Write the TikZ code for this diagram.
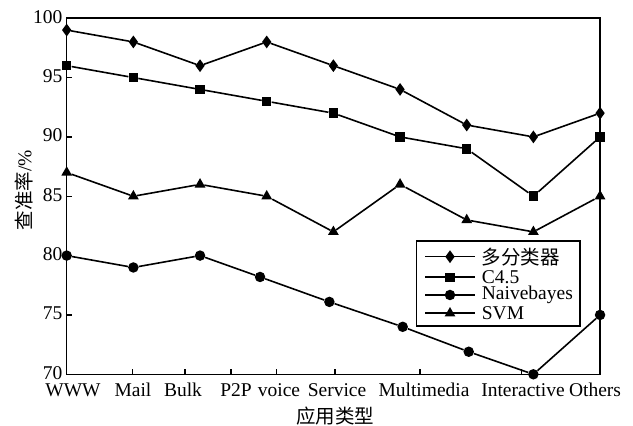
\documentclass[tikz,border=0pt]{standalone}
\usepackage{fontspec}
\setmainfont{Liberation Serif}
\newfontfamily\cjk{Noto Sans CJK SC}
\usetikzlibrary{shapes.geometric, positioning}

\begin{document}
\begin{tikzpicture}[
    x=66.67pt, y=11.87pt,
    font=\fontsize{19.5}{21}\selectfont,
    curve/.style={line width=1.6pt},
    frame/.style={line width=1.4pt},
    mdiamond/.style={diamond, fill=black, inner sep=0pt, minimum width=9.5pt, minimum height=13pt},
    msquare/.style={rectangle, fill=black, inner sep=0pt, minimum size=9.5pt},
    mcircle/.style={circle, fill=black, inner sep=0pt, minimum size=10.5pt},
    mtriangle/.style={regular polygon, regular polygon sides=3, fill=black, inner sep=0pt, minimum size=12.5pt},
    ticklabel/.style={inner sep=0pt}
]
    \useasboundingbox (-66.7pt,-51.7pt) rectangle (566.3pt,374.3pt);

    % axes box and ticks
    \draw[frame] (0,0) rectangle (8,30);
    \foreach \v in {5,10,15,20,25}
        \draw[frame] (0,\v) -- ++(5pt,0);
    \foreach \x in {0.99,1.775,2.465,3.15,4.025,5.3,6.825}
        \draw[frame] (\x,0) -- ++(0,5pt);

    \foreach \v in {70,75,...,100}
        \node[ticklabel, anchor=east, xshift=-4pt, yshift=1.5pt] (yl\v) at (0,\v-70) {\v};
    \foreach \x/\name [count=\i] in {6.3/WWW, 66.3/Mail, 116.3/Bulk, 169.3/P2P, 212.3/voice,
            270.3/Service, 357.3/Multimedia, 456.3/Interactive, 528.3/Others}
        \node[ticklabel, anchor=base] (xl\i) at (\x pt,-22pt) {\name};

    \node[rotate=90] (ylabel) at (-42.7pt,184.3pt) {{\cjk 查准率}/\%};
    \node (xlabel) at (268.3pt,-41.7pt) {\cjk 应用类型};

    % data
    \foreach \v [count=\i] in {99,98,96,98,96,94,91,90,92}
        \node[mdiamond] (dv\i) at (\i-1,\v-70) {};
    \foreach \v [count=\i] in {96,95,94,93,92,90,89,85,90}
        \node[msquare] (sq\i) at (\i-1,\v-70) {};
    \foreach \x/\v [count=\i] in {0/80,1/79,2/80,2.9/78.2,3.94/76.1,5.04/74,6.03/71.9,7/70,8/75}
        \node[mcircle] (nb\i) at (\x,\v-70) {};
    \foreach \v [count=\i] in {87,85,86,85,82,86,83,82,85}
        \node[mtriangle] (sv\i) at (\i-1,\v-70) {};

    \foreach \i [evaluate=\i as \j using int(\i+1)] in {1,...,8} {
        \draw[curve] (dv\i) -- (dv\j);
        \draw[curve] (sq\i) -- (sq\j);
        \draw[curve] (nb\i) -- (nb\j);
        \draw[curve] (sv\i) -- (sv\j);
    }

    % legend
    \node[draw, line width=1.3pt, fill=white, inner sep=0pt, anchor=south west,
        minimum width=163.3pt, minimum height=85pt] (legend) at (349.3pt,47.6pt) {};
    \foreach \m/\y/\name [count=\i] in {mdiamond/117.6/{\cjk 多分类器}, msquare/97/C4.5,
            mcircle/79.3/Naivebayes, mtriangle/61/SVM} {
        \coordinate (la\i) at (358.3pt,\y pt);
        \coordinate (lb\i) at (408.3pt,\y pt);
        \draw[curve] (la\i) -- (lb\i);
        \node[\m] (lm\i) at (383.3pt,\y pt) {};
        \node[ticklabel, right=6.7pt of lb\i] (lt\i) {\name};
    }
\end{tikzpicture}
\end{document}
